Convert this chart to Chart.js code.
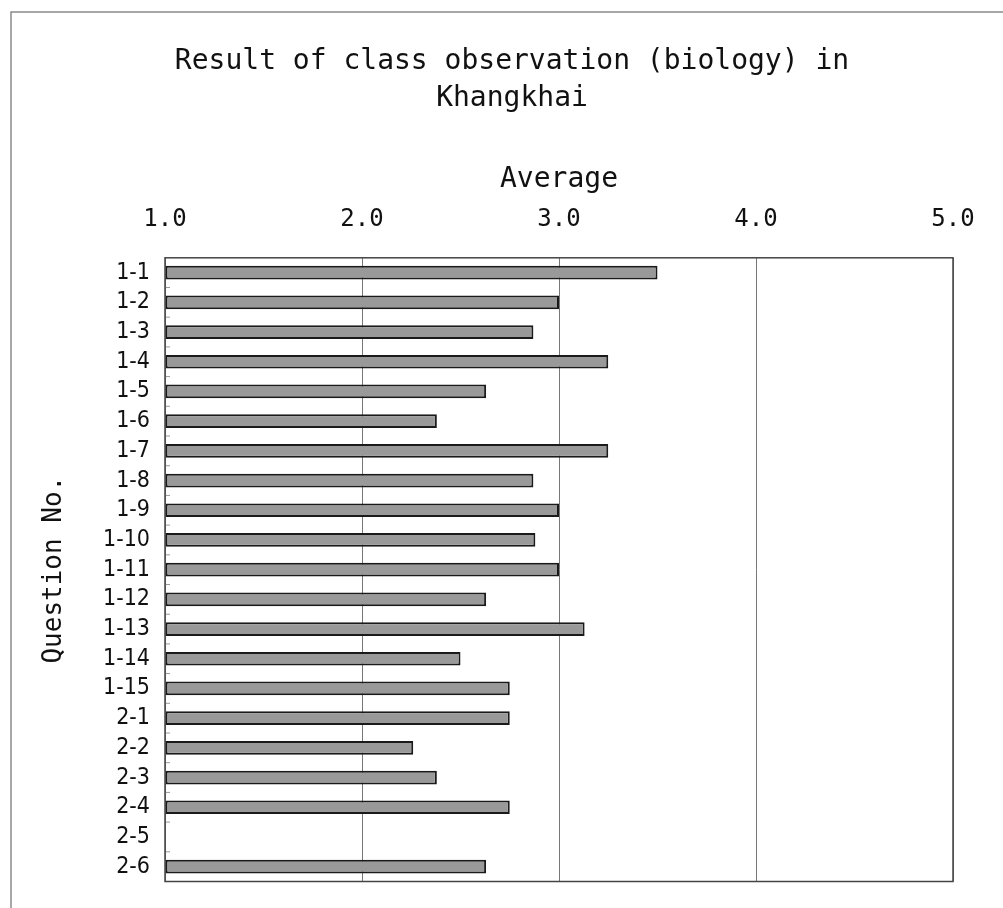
<!DOCTYPE html>
<html>
<head>
<meta charset="utf-8">
<script src="https://cdn.jsdelivr.net/npm/chart.js@4.4.0/dist/chart.umd.min.js"></script>
<style>
  html, body { margin: 0; padding: 0; background: #ffffff; }
  #wrap { position: relative; width: 1003px; height: 908px; }
  canvas { display: block; }
</style>
</head>
<body>
<div id="wrap"><canvas id="c" width="1003" height="908"></canvas></div>
<script>
const categories = ['1-1','1-2','1-3','1-4','1-5','1-6','1-7','1-8','1-9','1-10',
                    '1-11','1-12','1-13','1-14','1-15','2-1','2-2','2-3','2-4','2-5','2-6'];
const averages = [3.50, 3.00, 2.87, 3.25, 2.63, 2.38, 3.25, 2.87, 3.00, 2.88,
                  3.00, 2.63, 3.13, 2.50, 2.75, 2.75, 2.26, 2.38, 2.75, null, 2.63];
const xTicks = [1, 2, 3, 4, 5];
const titleLines = ['Result of class observation (biology) in', 'Khangkhai'];
const xTitle = 'Average';
const yTitle = 'Question No.';

const MONO = '"DejaVu Sans Mono", "Liberation Mono", monospace';

const framePlugin = {
  id: 'frame',
  beforeDraw(chart) {
    const ctx = chart.ctx;
    ctx.save();
    ctx.fillStyle = '#ffffff';
    ctx.fillRect(0, 0, chart.width, chart.height);
    ctx.strokeStyle = '#8a8a8a';
    ctx.lineWidth = 1.5;
    ctx.beginPath();
    ctx.moveTo(11, chart.height);
    ctx.lineTo(11, 12);
    ctx.lineTo(chart.width, 12);
    ctx.stroke();
    ctx.restore();
  },
  afterDatasetsDraw(chart) {
    const {ctx, chartArea: a, scales} = chart;
    ctx.save();
    ctx.strokeStyle = '#999';
    ctx.lineWidth = 1;
    const y = scales.y;
    for (let i = 1; i < categories.length; i++) {
      const py = (y.getPixelForValue(i - 1) + y.getPixelForValue(i)) / 2;
      ctx.beginPath();
      ctx.moveTo(a.left, py);
      ctx.lineTo(a.left + 5, py);
      ctx.stroke();
    }
    ctx.strokeStyle = '#444';
    ctx.lineWidth = 1.5;
    ctx.strokeRect(a.left, a.top, a.right - a.left, a.bottom - a.top);
    ctx.restore();
  }
};

new Chart(document.getElementById('c'), {
  type: 'bar',
  data: {
    labels: categories,
    datasets: [{
      data: averages,
      base: 1,
      backgroundColor: '#999999',
      borderColor: '#1a1a1a',
      borderWidth: 2,
      borderSkipped: false,
      barPercentage: 0.46,
      categoryPercentage: 1.0
    }]
  },
  options: {
    indexAxis: 'y',
    responsive: false,
    animation: false,
    layout: { padding: { left: 21, right: 0, top: 0, bottom: 19 } },
    plugins: {
      legend: { display: false },
      tooltip: { enabled: false },
      title: {
        display: true,
        text: titleLines,
        color: '#111',
        font: { family: MONO, size: 28, weight: 'normal', lineHeight: 1.3 },
        padding: { top: 44, bottom: 10 }
      }
    },
    scales: {
      x: {
        position: 'top',
        type: 'linear',
        min: 1,
        max: 5,
        afterBuildTicks(scale) {
          scale.ticks = xTicks.map(v => ({ value: v }));
        },
        afterFit(scale) { scale.height = 131; },
        ticks: {
          color: '#111',
          font: { family: MONO, size: 24 },
          padding: 24,
          callback: v => Number(v).toFixed(1)
        },
        grid: { color: '#777', lineWidth: 1, drawTicks: false },
        border: { display: false },
        title: {
          display: true,
          text: xTitle,
          color: '#111',
          font: { family: MONO, size: 28 },
          padding: { top: 36, bottom: 0 }
        }
      },
      y: {
        afterFit(scale) { scale.width = 144; },
        ticks: {
          color: '#111',
          autoSkip: false,
          font: { family: '"DejaVu Sans Condensed", "Liberation Sans Narrow", "Liberation Sans", sans-serif', size: 23, lineHeight: 1.0 },
          padding: 15
        },
        grid: { display: false, drawTicks: false },
        border: { display: false },
        title: {
          display: true,
          text: yTitle,
          color: '#111',
          font: { family: MONO, size: 26 },
          padding: { top: 18, bottom: 0 }
        }
      },
      yRight: {
        type: 'linear',
        position: 'right',
        axis: 'y',
        display: true,
        afterFit(scale) { scale.width = 50; },
        ticks: { display: false },
        grid: { display: false, drawTicks: false },
        border: { display: false }
      }
    }
  },
  plugins: [framePlugin]
});
</script>
</body>
</html>
